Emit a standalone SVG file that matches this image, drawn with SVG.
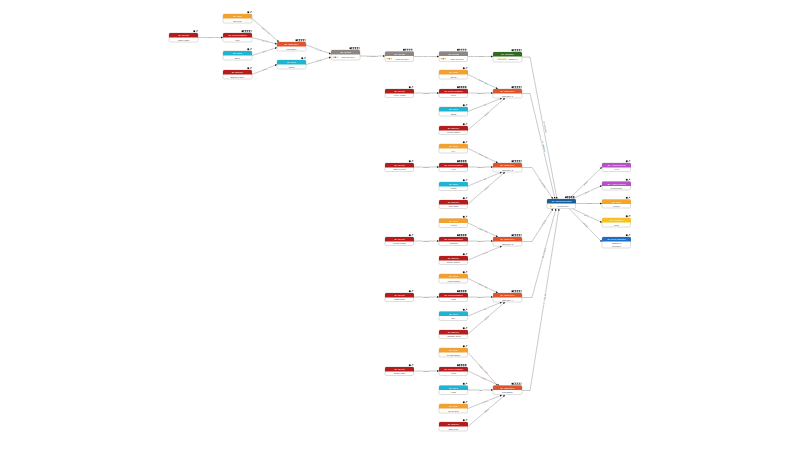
<svg xmlns="http://www.w3.org/2000/svg" xmlns:xlink="http://www.w3.org/1999/xlink" width="800" height="450" viewBox="0 0 800 450">
<style>
.nb{fill:#fff;stroke:#a0a0a0;stroke-width:0.35}
.ht{font-family:"Liberation Sans",Arial,sans-serif;font-size:2.5px;fill:#fff;text-anchor:middle}
.bt{font-family:"Liberation Sans",Arial,sans-serif;font-size:2.2px;fill:#444;text-anchor:middle}
.e{stroke:#666;stroke-width:0.35;fill:none;marker-end:url(#a)}
.el{font-family:"Liberation Sans",Arial,sans-serif;font-size:2.1px;fill:#444;text-anchor:middle;paint-order:stroke;stroke:#fff;stroke-width:0.9}
.red{fill:#b71c1c}.org{fill:#f2a12e}.cyn{fill:#1db5d2}.orr{fill:#e2532a}.gry{fill:#8e8682}.grn{fill:#2f6a1f}.blu{fill:#17609e}.pur{fill:#b64fc8}.ylw{fill:#f7c21b}.amb{fill:#f5a623}.rbl{fill:#1d6ec4}
</style>
<defs>
<marker id="a" viewBox="0 0 6 6" refX="6" refY="3" markerWidth="2.2" markerHeight="2.2" orient="auto" markerUnits="userSpaceOnUse"><path d="M0,0L6,3L0,6Z" fill="#222"/></marker>
<path id="hd" d="M0,4.6V1.4Q0,0 1.4,0H27.6Q29,0 29,1.4V4.6Z"/>
<g id="i2"><rect x="-4.6" y="-2.6" width="1.7" height="1.7" fill="#111"/><path d="M-2.2,-0.9L-0.6,-2.5M-1.5,-2.5H-0.6V-1.6" stroke="#111" stroke-width="0.4" fill="none"/></g>
<g id="i5"><rect x="-10.4" y="-2.6" width="1.7" height="1.7" fill="#111"/><g fill="none" stroke="#222" stroke-width="0.35"><rect x="-8.2" y="-2.5" width="1.5" height="1.5"/><rect x="-6.2" y="-2.5" width="1.5" height="1.5"/><rect x="-4.2" y="-2.5" width="1.5" height="1.5"/><rect x="-2.2" y="-2.5" width="1.5" height="1.5"/></g></g>
<g id="st"><circle cx="2.2" cy="7.3" r="0.8" fill="#f5c518"/><circle cx="4.2" cy="7.3" r="0.8" fill="#d9362b"/><circle cx="6.2" cy="7.3" r="0.8" fill="#f5c518"/></g>
</defs>
<rect width="800" height="450" fill="#fff"/>

<g id="connectors">
<path class="e" d="M198,37.5H223"/>
<path class="e" d="M252,18.5L279,42"/>
<path class="e" d="M252,37.5L277,44"/>
<path class="e" d="M252,55.5L277,47.5"/>
<path class="e" d="M252,74.5L277,64.5"/>
<path class="e" d="M306,45L331,54"/>
<path class="e" d="M306,64.5L331,57"/>
<path class="e" d="M360,56H385"/>
<path class="e" d="M413.5,56.5H439"/>
<path class="e" d="M468,56.5H493"/>
<path class="e" d="M468,74.5L498,89"/>
<path class="e" d="M413.5,93H439"/>
<path class="e" d="M468,93H493"/>
<path class="e" d="M468,111.5L502,98"/>
<path class="e" d="M468,130L505,98"/>
<path class="e" d="M468,148.5L498,163"/>
<path class="e" d="M413.5,167H439"/>
<path class="e" d="M468,167H493"/>
<path class="e" d="M468,186L502,172"/>
<path class="e" d="M468,204L505,172"/>
<path class="e" d="M468,223L498,237"/>
<path class="e" d="M413.5,241H439"/>
<path class="e" d="M468,241H493"/>
<path class="e" d="M468,260L502,246"/>
<path class="e" d="M468,278.5L498,293"/>
<path class="e" d="M413.5,297H439"/>
<path class="e" d="M468,297H493"/>
<path class="e" d="M468,316L502,302"/>
<path class="e" d="M468,334L505,302"/>
<path class="e" d="M468,352.5L498,386"/>
<path class="e" d="M413.5,371H439"/>
<path class="e" d="M468,371L500,386"/>
<path class="e" d="M468,390H493"/>
<path class="e" d="M468,408.5L502,395"/>
<path class="e" d="M468,426.5L505,395"/>
<path class="e" d="M522,57H530L557,199"/>
<path class="e" d="M522,93.5H530L555,199"/>
<path class="e" d="M522,167.5H532L553,199"/>
<path class="e" d="M522,241.5H532L553,208.5"/>
<path class="e" d="M522,297.5H532L556,208.5"/>
<path class="e" d="M522,390.5H530L559,208.5"/>
<path class="e" d="M569,199L602,167"/>
<path class="e" d="M572,199L602,185.5"/>
<path class="e" d="M576,203.5H602"/>
<path class="e" d="M572,208.5L602,222.5"/>
<path class="e" d="M569,208.5L602,242"/>

<text class="el" x="210.5" y="38.2">triggers</text>
<text class="el" transform="translate(265.5,30.2) rotate(41)" y="0.7">requires item</text>
<text class="el" transform="translate(264.5,40.7) rotate(14.6)" y="0.7">requires</text>
<text class="el" transform="translate(264.5,51.5) rotate(-17.7)" y="0.7">talk to</text>
<text class="el" transform="translate(264.5,69.5) rotate(-21.8)" y="0.7">defeat</text>
<text class="el" transform="translate(318.5,49.5) rotate(19.8)" y="0.7">unlocks</text>
<text class="el" transform="translate(318.5,60.7) rotate(-16.7)" y="0.7">unlocks</text>
<text class="el" x="372.5" y="56.7">on complete</text>
<text class="el" x="426" y="57.2">next</text>
<text class="el" x="480.5" y="57.2">on complete</text>
<text class="el" transform="translate(483,81.7) rotate(25)" y="0.7">requires item</text>
<text class="el" x="426" y="93.7">triggers</text>
<text class="el" x="480.5" y="93.7">requires</text>
<text class="el" transform="translate(485,104.7) rotate(-21)" y="0.7">talk</text>
<text class="el" transform="translate(486.5,114) rotate(-40)" y="0.7">defeat</text>
<text class="el" transform="translate(483,155.7) rotate(25)" y="0.7">requires item</text>
<text class="el" x="426" y="167.7">triggers</text>
<text class="el" x="480.5" y="167.7">requires</text>
<text class="el" transform="translate(485,179) rotate(-22)" y="0.7">talk</text>
<text class="el" transform="translate(486.5,188) rotate(-40)" y="0.7">defeat</text>
<text class="el" transform="translate(483,230) rotate(24)" y="0.7">requires item</text>
<text class="el" x="426" y="241.7">triggers</text>
<text class="el" x="480.5" y="241.7">requires</text>
<text class="el" transform="translate(485,253) rotate(-22)" y="0.7">defeat</text>
<text class="el" transform="translate(483,285.7) rotate(25)" y="0.7">requires item</text>
<text class="el" x="426" y="297.7">triggers</text>
<text class="el" x="480.5" y="297.7">requires</text>
<text class="el" transform="translate(485,309) rotate(-22)" y="0.7">talk</text>
<text class="el" transform="translate(486.5,318) rotate(-40)" y="0.7">defeat</text>
<text class="el" transform="translate(483,369) rotate(47)" y="0.7">requires item</text>
<text class="el" x="426" y="371.7">triggers</text>
<text class="el" transform="translate(484,378.5) rotate(24)" y="0.7">requires</text>
<text class="el" x="480.5" y="390.7">talk</text>
<text class="el" transform="translate(485,401.7) rotate(-21)" y="0.7">requires</text>
<text class="el" transform="translate(486.5,410.7) rotate(-39.6)" y="0.7">defeat</text>
<text class="el" transform="translate(545,127) rotate(79.2)" y="0.7">on complete</text>
<text class="el" transform="translate(543.5,146.5) rotate(76.6)" y="0.7">on complete</text>
<text class="el" transform="translate(542.5,183.5) rotate(55.9)" y="0.7">on complete</text>
<text class="el" transform="translate(542.5,224.7) rotate(-57)" y="0.7">on complete</text>
<text class="el" transform="translate(544,252.7) rotate(-74.8)" y="0.7">on complete</text>
<text class="el" transform="translate(544.5,299) rotate(-80.9)" y="0.7">on complete</text>
<text class="el" transform="translate(585.5,183) rotate(-44)" y="0.7">grants</text>
<text class="el" transform="translate(587,192.2) rotate(-24)" y="0.7">grants</text>
<text class="el" x="589" y="204.2">Reward</text>
<text class="el" transform="translate(587,215.5) rotate(25)" y="0.7">grants</text>
<text class="el" transform="translate(585.5,225) rotate(45.4)" y="0.7">unlocks</text>
</g>

<g id="nA" transform="translate(169,33)"><rect class="nb" width="29" height="9" rx="1.4"/><use href="#hd" class="red"/><text class="ht" x="14.5" y="3.3">ID: Event</text><text class="bt" x="14.5" y="7.6">Game Start</text><use href="#i2" x="29"/></g>
<g id="nB" transform="translate(223,14)"><rect class="nb" width="29" height="9" rx="1.4"/><use href="#hd" class="org"/><text class="ht" x="14.5" y="3.3">ID: Item</text><text class="bt" x="14.5" y="7.6">Old Map</text><use href="#i2" x="29"/></g>
<g id="nC" transform="translate(223,33)"><rect class="nb" width="29" height="9" rx="1.4"/><use href="#hd" class="red"/><text class="ht" x="14.5" y="3.3">ID: Conversation</text><text class="bt" x="14.5" y="7.6">Intro</text><use href="#i5" x="29"/></g>
<g id="nD" transform="translate(223,51)"><rect class="nb" width="29" height="9" rx="1.4"/><use href="#hd" class="cyn"/><text class="ht" x="14.5" y="3.3">ID: NPC</text><text class="bt" x="14.5" y="7.6">Elder</text><use href="#i2" x="29"/></g>
<g id="nE" transform="translate(223,70)"><rect class="nb" width="29" height="9" rx="1.4"/><use href="#hd" class="red"/><text class="ht" x="14.5" y="3.3">ID: Enemy</text><text class="bt" x="14.5" y="7.6">Bandit Leader</text><use href="#i2" x="29"/></g>
<g id="nF" transform="translate(277,42)"><rect class="nb" width="29" height="9" rx="1.4"/><use href="#hd" class="orr"/><text class="ht" x="14.5" y="3.3">ID: Objective</text><text class="bt" x="14.5" y="7.6">Find Elder</text><use href="#i5" x="29"/></g>
<g id="nG" transform="translate(277,60)"><rect class="nb" width="29" height="9" rx="1.4"/><use href="#hd" class="cyn"/><text class="ht" x="14.5" y="3.3">ID: NPC</text><text class="bt" x="14.5" y="7.6">Guard</text><use href="#i2" x="29"/></g>
<g id="nH" transform="translate(331,50)"><rect class="nb" width="29" height="10" rx="1.4"/><use href="#hd" class="gry"/><text class="ht" x="14.5" y="3.3">ID: Quest</text><use href="#st"/><text class="bt" x="17" y="8">Main Quest 1</text><use href="#i5" x="29"/></g>
<g id="nI" transform="translate(385,51.5)"><rect class="nb" width="28.5" height="10" rx="1.4"/><use href="#hd" class="gry"/><text class="ht" x="14.5" y="3.3">ID: Quest</text><use href="#st"/><text class="bt" x="17" y="8">Main Quest 2</text><use href="#i5" x="28.5"/></g>
<g id="nJ" transform="translate(439,51.5)"><rect class="nb" width="28.5" height="10" rx="1.4"/><use href="#hd" class="gry"/><text class="ht" x="14.5" y="3.3">ID: Quest</text><use href="#st"/><text class="bt" x="18" y="8">Main Quest 3</text><use href="#i5" x="28.5"/></g>
<g id="nK" transform="translate(493,52)"><rect class="nb" width="29" height="10" rx="1.4"/><use href="#hd" class="grn"/><text class="ht" x="14.5" y="3.3">ID: Chapter</text><circle cx="5" cy="7.3" r="0.8" fill="#f5c518"/><circle cx="7" cy="7.3" r="0.8" fill="#e8892b"/><circle cx="9" cy="7.3" r="0.8" fill="#f5c518"/><circle cx="11" cy="7.3" r="0.8" fill="#8bc34a"/><circle cx="13" cy="7.3" r="0.8" fill="#f5c518"/><text class="bt" x="20" y="8">Chapter 1</text><use href="#i5" x="29"/></g>

<g id="nL" transform="translate(439,70)"><rect class="nb" width="28.5" height="9" rx="1.4"/><use href="#hd" class="org"/><text class="ht" x="14.5" y="3.3">ID: Item</text><text class="bt" x="14.5" y="7.6">Sword</text><use href="#i2" x="28.5"/></g>
<g id="nM" transform="translate(385,89)"><rect class="nb" width="28.5" height="8.5" rx="1.4"/><use href="#hd" class="red"/><text class="ht" x="14.5" y="3.3">ID: Event</text><text class="bt" x="14.5" y="7.4">Arrive Village</text><use href="#i2" x="28.5"/></g>
<g id="nN" transform="translate(439,89)"><rect class="nb" width="28.5" height="8.5" rx="1.4"/><use href="#hd" class="red"/><text class="ht" x="14.5" y="3.3">ID: Conversation</text><text class="bt" x="14.5" y="7.4">Meet</text><use href="#i5" x="28.5"/></g>
<g id="nO" transform="translate(493,89)"><rect class="nb" width="29" height="9" rx="1.4"/><use href="#hd" class="orr"/><text class="ht" x="14.5" y="3.3">ID: Objective</text><text class="bt" x="14.5" y="7.6">Objective 1</text><use href="#i5" x="29"/></g>
<g id="n107" transform="translate(439,107)"><rect class="nb" width="28.5" height="9" rx="1.4"/><use href="#hd" class="cyn"/><text class="ht" x="14.5" y="3.3">ID: NPC</text><text class="bt" x="14.5" y="7.6">Smith</text><use href="#i2" x="28.5"/></g>
<g id="n126" transform="translate(439,126)"><rect class="nb" width="28.5" height="8.5" rx="1.4"/><use href="#hd" class="red"/><text class="ht" x="14.5" y="3.3">ID: Enemy</text><text class="bt" x="14.5" y="7.4">Goblin Camp</text><use href="#i2" x="28.5"/></g>

<g id="n144" transform="translate(439,144)"><rect class="nb" width="28.5" height="9" rx="1.4"/><use href="#hd" class="org"/><text class="ht" x="14.5" y="3.3">ID: Item</text><text class="bt" x="14.5" y="7.6">Key</text><use href="#i2" x="28.5"/></g>
<g id="n163l" transform="translate(385,163)"><rect class="nb" width="28.5" height="8.5" rx="1.4"/><use href="#hd" class="red"/><text class="ht" x="14.5" y="3.3">ID: Event</text><text class="bt" x="14.5" y="7.4">Enter Forest</text><use href="#i2" x="28.5"/></g>
<g id="n163" transform="translate(439,163)"><rect class="nb" width="28.5" height="8.5" rx="1.4"/><use href="#hd" class="red"/><text class="ht" x="14.5" y="3.3">ID: Conversation</text><text class="bt" x="14.5" y="7.4">Help</text><use href="#i5" x="28.5"/></g>
<g id="n163r" transform="translate(493,163)"><rect class="nb" width="29" height="9" rx="1.4"/><use href="#hd" class="orr"/><text class="ht" x="14.5" y="3.3">ID: Objective</text><text class="bt" x="14.5" y="7.6">Objective 2</text><use href="#i5" x="29"/></g>
<g id="n182" transform="translate(439,182)"><rect class="nb" width="28.5" height="8.5" rx="1.4"/><use href="#hd" class="cyn"/><text class="ht" x="14.5" y="3.3">ID: NPC</text><text class="bt" x="14.5" y="7.4">Hunter</text><use href="#i2" x="28.5"/></g>
<g id="n200" transform="translate(439,200)"><rect class="nb" width="28.5" height="8.5" rx="1.4"/><use href="#hd" class="red"/><text class="ht" x="14.5" y="3.3">ID: Enemy</text><text class="bt" x="14.5" y="7.4">Wolf Pack</text><use href="#i2" x="28.5"/></g>

<g id="n219" transform="translate(439,218.5)"><rect class="nb" width="28.5" height="9" rx="1.4"/><use href="#hd" class="org"/><text class="ht" x="14.5" y="3.3">ID: Item</text><text class="bt" x="14.5" y="7.6">Amulet</text><use href="#i2" x="28.5"/></g>
<g id="n237l" transform="translate(385,237)"><rect class="nb" width="28.5" height="8.5" rx="1.4"/><use href="#hd" class="red"/><text class="ht" x="14.5" y="3.3">ID: Event</text><text class="bt" x="14.5" y="7.4">Reach Ruins</text><use href="#i2" x="28.5"/></g>
<g id="n237" transform="translate(439,237)"><rect class="nb" width="28.5" height="8.5" rx="1.4"/><use href="#hd" class="red"/><text class="ht" x="14.5" y="3.3">ID: Conversation</text><text class="bt" x="14.5" y="7.4">Warning</text><use href="#i5" x="28.5"/></g>
<g id="n237r" transform="translate(493,237)"><rect class="nb" width="29" height="9" rx="1.4"/><use href="#hd" class="orr"/><text class="ht" x="14.5" y="3.3">ID: Objective</text><text class="bt" x="14.5" y="7.6">Objective 3</text><use href="#i5" x="29"/></g>
<g id="n256" transform="translate(439,256)"><rect class="nb" width="28.5" height="8.5" rx="1.4"/><use href="#hd" class="red"/><text class="ht" x="14.5" y="3.3">ID: Enemy</text><text class="bt" x="14.5" y="7.4">Stone Golem</text><use href="#i2" x="28.5"/></g>

<g id="n274" transform="translate(439,274)"><rect class="nb" width="28.5" height="9" rx="1.4"/><use href="#hd" class="org"/><text class="ht" x="14.5" y="3.3">ID: Item</text><text class="bt" x="14.5" y="7.6">Ancient Scroll</text><use href="#i2" x="28.5"/></g>
<g id="n293l" transform="translate(385,293)"><rect class="nb" width="28.5" height="8.5" rx="1.4"/><use href="#hd" class="red"/><text class="ht" x="14.5" y="3.3">ID: Event</text><text class="bt" x="14.5" y="7.4">Night Falls</text><use href="#i2" x="28.5"/></g>
<g id="n293" transform="translate(439,293)"><rect class="nb" width="28.5" height="8.5" rx="1.4"/><use href="#hd" class="red"/><text class="ht" x="14.5" y="3.3">ID: Conversation</text><text class="bt" x="14.5" y="7.4">Plan</text><use href="#i5" x="28.5"/></g>
<g id="n293r" transform="translate(493,293)"><rect class="nb" width="29" height="9" rx="1.4"/><use href="#hd" class="orr"/><text class="ht" x="14.5" y="3.3">ID: Objective</text><text class="bt" x="14.5" y="7.6">Objective 4</text><use href="#i5" x="29"/></g>
<g id="n312" transform="translate(439,311.5)"><rect class="nb" width="28.5" height="9" rx="1.4"/><use href="#hd" class="cyn"/><text class="ht" x="14.5" y="3.3">ID: NPC</text><text class="bt" x="14.5" y="7.6">Spy</text><use href="#i2" x="28.5"/></g>
<g id="n330" transform="translate(439,330)"><rect class="nb" width="28.5" height="8.5" rx="1.4"/><use href="#hd" class="red"/><text class="ht" x="14.5" y="3.3">ID: Enemy</text><text class="bt" x="14.5" y="7.4">Assassin Guild</text><use href="#i2" x="28.5"/></g>

<g id="n348" transform="translate(439,348)"><rect class="nb" width="28.5" height="9" rx="1.4"/><use href="#hd" class="org"/><text class="ht" x="14.5" y="3.3">ID: Item</text><text class="bt" x="14.5" y="7.6">Crystal Shard</text><use href="#i2" x="28.5"/></g>
<g id="n367l" transform="translate(385,367)"><rect class="nb" width="28.5" height="8.5" rx="1.4"/><use href="#hd" class="red"/><text class="ht" x="14.5" y="3.3">ID: Event</text><text class="bt" x="14.5" y="7.4">Castle Gate</text><use href="#i2" x="28.5"/></g>
<g id="n367" transform="translate(439,367)"><rect class="nb" width="28.5" height="8.5" rx="1.4"/><use href="#hd" class="red"/><text class="ht" x="14.5" y="3.3">ID: Conversation</text><text class="bt" x="14.5" y="7.4">Final</text><use href="#i5" x="28.5"/></g>
<g id="n386r" transform="translate(493,385.5)"><rect class="nb" width="29" height="9" rx="1.4"/><use href="#hd" class="orr"/><text class="ht" x="14.5" y="3.3">ID: Objective</text><text class="bt" x="14.5" y="7.6">Final Battle</text><use href="#i5" x="29"/></g>
<g id="n386" transform="translate(439,385.5)"><rect class="nb" width="28.5" height="9" rx="1.4"/><use href="#hd" class="cyn"/><text class="ht" x="14.5" y="3.3">ID: NPC</text><text class="bt" x="14.5" y="7.6">King</text><use href="#i2" x="28.5"/></g>
<g id="n404" transform="translate(439,404)"><rect class="nb" width="28.5" height="9" rx="1.4"/><use href="#hd" class="org"/><text class="ht" x="14.5" y="3.3">ID: Item</text><text class="bt" x="14.5" y="7.6">Royal Seal</text><use href="#i2" x="28.5"/></g>
<g id="n422" transform="translate(439,422)"><rect class="nb" width="28.5" height="9" rx="1.4"/><use href="#hd" class="red"/><text class="ht" x="14.5" y="3.3">ID: Enemy</text><text class="bt" x="14.5" y="7.6">Dark Lord</text><use href="#i2" x="28.5"/></g>

<g id="nP" transform="translate(547,199)"><rect class="nb" width="28.5" height="9.5" rx="1.4"/><use href="#hd" class="blu"/><text class="ht" x="14.5" y="3.3">ID: Quest Reward</text><circle cx="4" cy="7.4" r="0.8" fill="#f5c518"/><text class="bt" x="16" y="7.9">Completion</text><use href="#i5" x="28.5"/></g>
<g id="nR1" transform="translate(602,163)"><rect class="nb" width="28.5" height="8.5" rx="1.4"/><use href="#hd" class="pur"/><text class="ht" x="14.5" y="3.3">ID: Achievement</text><text class="bt" x="14.5" y="7.4">Hero</text><use href="#i2" x="28.5"/></g>
<g id="nR2" transform="translate(602,181.5)"><rect class="nb" width="28.5" height="8.5" rx="1.4"/><use href="#hd" class="pur"/><text class="ht" x="14.5" y="3.3">ID: Achievement</text><text class="bt" x="14.5" y="7.4">Perfect Run</text><use href="#i2" x="28.5"/></g>
<g id="nR3" transform="translate(602,199.5)"><rect class="nb" width="28.5" height="8.5" rx="1.4"/><use href="#hd" class="amb"/><text class="ht" x="14.5" y="3.3">ID: Item</text><text class="bt" x="14.5" y="7.4">Crown</text><use href="#i2" x="28.5"/></g>
<g id="nR4" transform="translate(602,218)"><rect class="nb" width="28.5" height="9" rx="1.4"/><use href="#hd" class="ylw"/><text class="ht" x="14.5" y="3.3">ID: Currency</text><text class="bt" x="14.5" y="7.6">Gold</text><use href="#i2" x="28.5"/></g>
<g id="nR5" transform="translate(602,237)"><rect class="nb" width="28.5" height="11" rx="1.4"/><use href="#hd" class="rbl"/><text class="ht" x="14.5" y="3.3">ID: Next Chapter</text><text class="bt" x="14.5" y="7.2">Chapter 2</text><text class="bt" x="14.5" y="9.6">Unlocked</text><use href="#i2" x="28.5"/></g>
</svg>
